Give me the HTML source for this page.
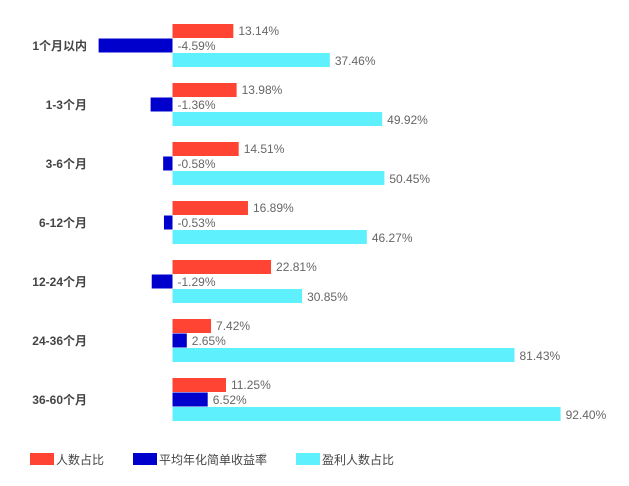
<!DOCTYPE html>
<html><head><meta charset="utf-8">
<style>
body{margin:0;background:#fff;}
svg{display:block;font-family:"Liberation Sans","Noto Sans CJK SC",sans-serif;}
</style></head><body>
<svg id="c" width="629" height="486"></svg>
<script>
const categories=["1个月以内","1-3个月","3-6个月","6-12个月","12-24个月","24-36个月","36-60个月"];
const peopleShare=[13.14,13.98,14.51,16.89,22.81,7.42,11.25];
const annualReturn=[-4.59,-1.36,-0.58,-0.53,-1.29,2.65,6.52];
const profitShare=[37.46,49.92,50.45,46.27,30.85,81.43,92.40];
const svg=document.getElementById('c');
const NS='http://www.w3.org/2000/svg';
const x0=172.5;
function xRed(v){return 9.6+3.9*v;}
function xBlue(v){return v<0?16.1*v:5.4*v;}
function xCyan(v){return 4.2*v;}
function yRow(i){return 24+i*59;}
function mk(tag,attrs,text){const e=document.createElementNS(NS,tag);for(const k in attrs)e.setAttribute(k,attrs[k]);if(text!==undefined)e.textContent=text;svg.appendChild(e);return e;}
function fmt(v){return v.toFixed(2)+'%';}
categories.forEach((c,i)=>{
  const y=yRow(i);
  let t=mk('text',{x:87,y:y+26,'text-anchor':'end','font-size':12,'font-weight':'bold',fill:'#444'},c);
  
  
  // red
  let w=xRed(peopleShare[i]);
  let r=mk('rect',{x:x0,y:y,width:w,height:14,fill:'#ff4433'});
  
  
  t=mk('text',{x:x0+w+5,y:y+11,'font-size':12,fill:'#666'},fmt(peopleShare[i]));
  
  
  // blue
  const b=xBlue(annualReturn[i]);
  r=mk('rect',{x:b<0?x0+b:x0,y:y+14.5,width:Math.abs(b),height:14,fill:'#0000cc'});
  
  
  t=mk('text',{x:(b<0?x0:x0+b)+5,y:y+26,'font-size':12,fill:'#666'},fmt(annualReturn[i]));
  
  
  // cyan
  w=xCyan(profitShare[i]);
  r=mk('rect',{x:x0,y:y+29,width:w,height:14,fill:'#5ef0fc'});
  
  
  t=mk('text',{x:x0+w+5,y:y+41,'font-size':12,fill:'#666'},fmt(profitShare[i]));
  
  
});
const legend=[["人数占比","#ff4433",30],["平均年化简单收益率","#0000cc",133],["盈利人数占比","#5ef0fc",296]];
legend.forEach(l=>{
  let r=mk('rect',{x:l[2],y:453,width:24,height:12,fill:l[1]});
  
  
  let t=mk('text',{x:l[2]+26,y:464,'font-size':12,fill:'#444'},l[0]);
  
  
});
let s=mk('text',{x:262,y:458,'font-size':6,fill:'#888'},'®');


</script>
</body></html>
